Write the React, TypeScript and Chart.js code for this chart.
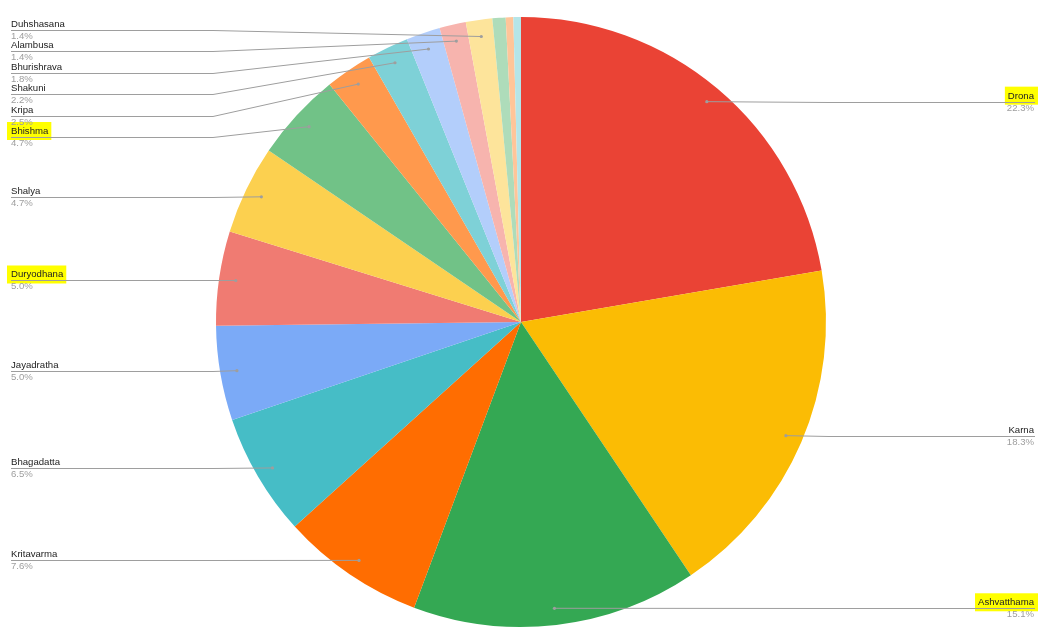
import React, { useEffect, useRef } from "react";
import { Chart, registerables } from "chart.js";

Chart.register(...registerables);

const categories = [
  "Drona", "Karna", "Ashvatthama", "Kritavarma", "Bhagadatta", "Jayadratha",
  "Duryodhana", "Shalya", "Bhishma", "Kripa", "Shakuni", "Bhurishrava",
  "Alambusa", "Duhshasana", "Other 1", "Other 2", "Other 3",
];
const values = [22.3, 18.3, 15.1, 7.6, 6.5, 5.0, 5.0, 4.7, 4.7, 2.5, 2.2, 1.8, 1.4, 1.4, 0.7, 0.4, 0.4];
const colors = [
  "#EA4335", "#FBBC04", "#34A853", "#FF6D01", "#46BDC6", "#7BAAF7",
  "#F07B72", "#FCD04F", "#71C287", "#FF994D", "#7ED1D7", "#B3CEFB",
  "#F7B4AE", "#FDE49B", "#AEDCBA", "#FFC599", "#B5E5E8",
];
const highlighted = ["Drona", "Ashvatthama", "Bhishma", "Duryodhana"];
const minLabelShare = 1.0;

const FONT = "9.6px 'Liberation Sans', Arial, sans-serif";
const SPACING = 21.4;

type Lab = { name: string; pct: string; px: number; py: number; ideal: number; y: number; left: boolean };

function layoutSide(labs: Lab[], minY: number, maxY: number) {
  labs.sort((a, b) => a.ideal - b.ideal);
  let clusters: Lab[][] = labs.map((l) => [l]);
  const place = (c: Lab[]) => {
    const mean = c.reduce((s, l) => s + l.ideal, 0) / c.length;
    const top = mean - ((c.length - 1) * SPACING) / 2;
    c.forEach((l, i) => (l.y = top + i * SPACING));
  };
  clusters.forEach(place);
  let changed = true;
  while (changed) {
    changed = false;
    for (let i = 0; i < clusters.length - 1; i++) {
      const a = clusters[i];
      const b = clusters[i + 1];
      if (a[a.length - 1].y + SPACING > b[0].y) {
        const m = a.concat(b);
        place(m);
        clusters.splice(i, 2, m);
        changed = true;
        break;
      }
    }
  }
  for (let i = 0; i < labs.length; i++) {
    const lo = i === 0 ? minY : labs[i - 1].y + SPACING;
    if (labs[i].y < lo) labs[i].y = lo;
  }
  for (let i = labs.length - 1; i >= 0; i--) {
    const hi = i === labs.length - 1 ? maxY : labs[i + 1].y - SPACING;
    if (labs[i].y > hi) labs[i].y = hi;
  }
}

const labelPlugin = {
  id: "sideLabels",
  afterDraw(chart: any) {
    const ctx = chart.ctx as CanvasRenderingContext2D;
    const meta = chart.getDatasetMeta(0);
    const data: number[] = chart.data.datasets[0].data;
    const names: string[] = chart.data.labels;
    const total = data.reduce((s, v) => s + v, 0);
    const ca = chart.chartArea;
    const labs: Lab[] = [];
    meta.data.forEach((arc: any, i: number) => {
      const share = (data[i] / total) * 100;
      if (share < minLabelShare) return;
      const p = arc.getProps(["x", "y", "startAngle", "endAngle", "outerRadius"], true);
      const mid = (p.startAngle + p.endAngle) / 2;
      const rr = p.outerRadius * 0.945;
      const px = p.x + Math.cos(mid) * rr;
      const py = p.y + Math.sin(mid) * rr;
      labs.push({ name: names[i], pct: share.toFixed(1) + "%", px, py, ideal: py, y: py, left: px < p.x });
    });
    const minY = ca.top + 13;
    const maxY = ca.bottom - 12;
    const leftLabs = labs.filter((l) => l.left);
    const rightLabs = labs.filter((l) => !l.left);
    layoutSide(leftLabs, minY, maxY);
    layoutSide(rightLabs, minY, maxY);

    const leftText = 11;
    const rightText = chart.width - 20;
    const leftBend = ca.left - 3;
    const rightBend = ca.right + 3;

    ctx.save();
    ctx.font = FONT;
    // highlights
    labs.forEach((l) => {
      if (!highlighted.includes(l.name)) return;
      const w = ctx.measureText(l.name).width;
      const x0 = l.left ? leftText - 4 : rightText - w - 3;
      ctx.fillStyle = "#FFFF00";
      ctx.fillRect(x0, l.y - 15, w + 7, 18);
    });
    // leader lines
    ctx.strokeStyle = "#9E9E9E";
    ctx.lineWidth = 1;
    labs.forEach((l) => {
      const ly = Math.round(l.y) + 0.5;
      ctx.beginPath();
      if (l.left) {
        ctx.moveTo(leftText, ly);
        ctx.lineTo(leftBend, ly);
        ctx.lineTo(l.px, l.py);
      } else {
        ctx.moveTo(l.px, l.py);
        ctx.lineTo(rightBend, ly);
        ctx.lineTo(rightText + 1, ly);
      }
      ctx.stroke();
      ctx.fillStyle = "#9E9E9E";
      ctx.beginPath();
      ctx.arc(l.px, l.py, 1.6, 0, Math.PI * 2);
      ctx.fill();
    });
    // texts
    labs.forEach((l) => {
      const ly = Math.round(l.y);
      ctx.textAlign = l.left ? "left" : "right";
      ctx.textBaseline = "alphabetic";
      const tx = l.left ? leftText : rightText;
      ctx.fillStyle = "#222222";
      ctx.fillText(l.name, tx, ly - 3);
      ctx.fillStyle = "#9E9E9E";
      ctx.fillText(l.pct, tx, ly + 9);
    });
    ctx.restore();
  },
};

export default function App() {
  const ref = useRef<HTMLCanvasElement | null>(null);
  useEffect(() => {
    if (!ref.current) return;
    const chart = new Chart(ref.current, {
      type: "pie",
      data: {
        labels: categories,
        datasets: [
          {
            data: values,
            backgroundColor: colors,
            borderWidth: 0,
          },
        ],
      },
      options: {
        responsive: false,
        animation: false,
        layout: { padding: { left: 216, right: 228, top: 17, bottom: 11 } },
        plugins: {
          legend: { display: false },
          tooltip: { enabled: false },
        },
      },
      plugins: [labelPlugin],
    });
    return () => chart.destroy();
  }, []);
  return (
    <div style={{ position: "absolute", left: 0, top: 0, width: 1054, height: 638, background: "#fff" }}>
      <canvas ref={ref} width={1054} height={638} style={{ display: "block", width: 1054, height: 638 }} />
    </div>
  );
}
